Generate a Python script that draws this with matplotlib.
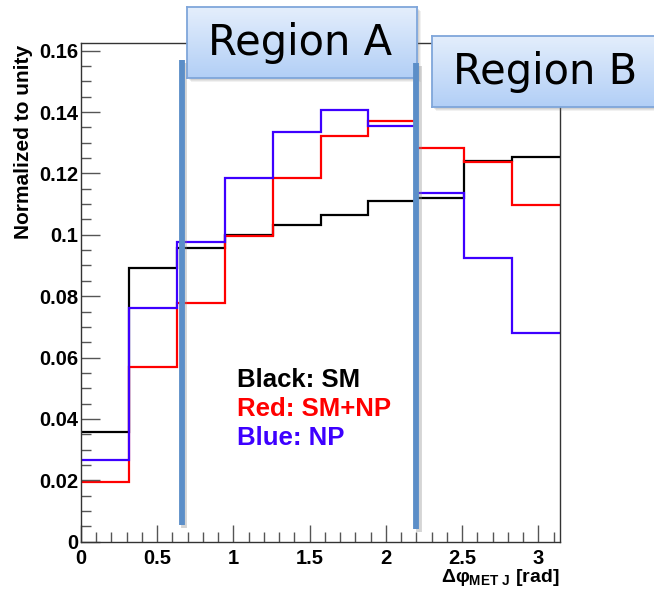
import numpy as np
import matplotlib
matplotlib.use("Agg")
import matplotlib.pyplot as plt
from matplotlib.colors import LinearSegmentedColormap
from matplotlib.patches import Rectangle
import matplotlib.patheffects as pe

# Normalised distributions of delta-phi(MET, jet), 10 bins over [0, pi]
bin_edges = np.linspace(0.0, np.pi, 11)
sm = [0.0356, 0.0891, 0.0958, 0.1000, 0.1033, 0.1066, 0.1109, 0.1121, 0.1241, 0.1254]
sm_np = [0.0194, 0.0570, 0.0778, 0.0995, 0.1186, 0.1323, 0.1370, 0.1283, 0.1236, 0.1097]
np_only = [0.0266, 0.0760, 0.0977, 0.1185, 0.1336, 0.1408, 0.1356, 0.1136, 0.0925, 0.0679]

x_ticks = [0, 0.5, 1, 1.5, 2, 2.5, 3]
x_tick_labels = ["0", "0.5", "1", "1.5", "2", "2.5", "3"]
y_ticks = [0, 0.02, 0.04, 0.06, 0.08, 0.10, 0.12, 0.14, 0.16]
y_tick_labels = ["0", "0.02", "0.04", "0.06", "0.08", "0.1", "0.12", "0.14", "0.16"]

# Region boundaries (x position, y extent)
cut_a = 0.66
cut_b = 2.20
cut_a_span = (0.0054, 0.157)
cut_b_span = (0.0041, 0.156)

W, H = 654, 591
plt.rcParams["mathtext.fontset"] = "custom"
plt.rcParams["mathtext.rm"] = "Liberation Sans:bold"
plt.rcParams["mathtext.it"] = "Liberation Sans:bold"
plt.rcParams["mathtext.bf"] = "Liberation Sans:bold"

fig = plt.figure(figsize=(W / 100, H / 100), dpi=100)
fig.patch.set_facecolor("white")

ax_l, ax_r, ax_t, ax_b = 81, 560, 43.3, 541.7
ax = fig.add_axes([ax_l / W, (H - ax_b) / H, (ax_r - ax_l) / W, (ax_b - ax_t) / H])

ax.stairs(sm, bin_edges, color="black", lw=1.6, baseline=None)
ax.stairs(sm_np, bin_edges, color="#ff0000", lw=1.6, baseline=None)
ax.stairs(np_only, bin_edges, color="#3d00ff", lw=1.6, baseline=None)

ax.set_xlim(0, np.pi)
ax.set_ylim(0, 0.1624)

tick_font = dict(family="Liberation Sans", weight="bold", size=14.5)
ax.set_xticks(x_ticks)
ax.set_xticklabels(x_tick_labels, fontdict=tick_font)
ax.set_yticks(y_ticks)
ax.set_yticklabels(y_tick_labels, fontdict=tick_font)
ax.set_xticks(np.arange(0, 3.15, 0.1), minor=True)
ax.set_yticks(np.arange(0, 0.1601, 0.005), minor=True)
ax.tick_params(axis="both", which="major", direction="in", color="#555555", width=1.0)
ax.tick_params(axis="x", which="major", length=12, pad=5)
ax.tick_params(axis="y", which="major", length=14, pad=2)
ax.tick_params(axis="both", which="minor", direction="in", color="#555555", width=1.0, length=7)
for s in ax.spines.values():
    s.set_color("#333333")
    s.set_linewidth(1.0)

fig.text(24 / W, 1 - 45 / H, "Normalized to unity", family="Liberation Sans", weight="bold",
         size=15, rotation=90, ha="center", va="top")

fig.text(ax_r / W, 1 - 582 / H, r"$\Delta\varphi_{\mathrm{MET\ J}}$ [rad]",
         family="Liberation Sans", weight="bold", size=14, ha="right", va="baseline")

# Legend text
leg_x = 237 / W
for label, col, ypix in [("Black: SM", "black", 380), ("Red: SM+NP", "#ff0000", 409),
                         ("Blue: NP", "#3d00ff", 438)]:
    fig.text(leg_x, 1 - ypix / H, label, color=col, family="Liberation Sans",
             weight="bold", size=18.5, ha="left", va="center")

# Region boundary markers
line_fx = [pe.SimpleLineShadow(offset=(2, -2), shadow_color="#888888", alpha=0.35), pe.Normal()]
ax.plot([cut_a, cut_a], cut_a_span, color="#5b8ec8", lw=4.2, solid_capstyle="butt",
        clip_on=False, path_effects=line_fx, zorder=5)


def region_box(x0, y0, x1, y1, text):
    for k, a in [(4, 0.10), (3, 0.12), (2, 0.15)]:
        fig.patches.append(Rectangle(((x0 + k) / W, (H - y1 - k) / H), (x1 - x0) / W, (y1 - y0) / H,
                                     transform=fig.transFigure, facecolor="#777777",
                                     edgecolor="none", alpha=a, zorder=8))
    bax = fig.add_axes([x0 / W, (H - y1) / H, (x1 - x0) / W, (y1 - y0) / H], zorder=10)
    cmap = LinearSegmentedColormap.from_list("box", ["#e4eefc", "#b2cff6"])
    bax.imshow(np.linspace(0, 1, 64).reshape(-1, 1), cmap=cmap, aspect="auto",
               extent=[0, 1, 0, 1], origin="upper")
    bax.set_xticks([])
    bax.set_yticks([])
    for s in bax.spines.values():
        s.set_color("#7fa6da")
        s.set_linewidth(1.3)
    bax.text(21 / (x1 - x0), 0.5, text, transform=bax.transAxes, ha="left", va="center",
             family="DejaVu Sans", size=30, color="black")
    return bax


region_box(186.7, 7, 417.3, 78, "Region A")
region_box(432.3, 36, 664, 107.3, "Region B")

# second marker drawn above the Region A box
lax = fig.add_axes(ax.get_position(), zorder=11, sharex=ax, sharey=ax)
lax.set_axis_off()
lax.plot([cut_b, cut_b], cut_b_span, color="#5b8ec8", lw=4.2, solid_capstyle="butt",
         clip_on=False, path_effects=line_fx)

fig.savefig("out.png", dpi=100)
